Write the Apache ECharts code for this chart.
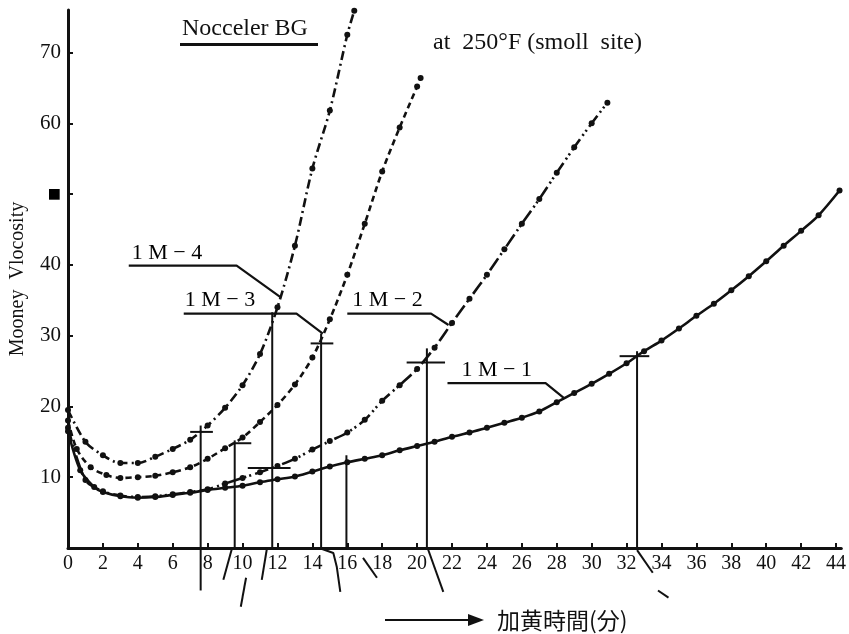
<!DOCTYPE html>
<html>
<head>
<meta charset="utf-8">
<script src="https://cdn.jsdelivr.net/npm/echarts@6/dist/echarts.min.js"></script>
<style>
  html, body { margin: 0; padding: 0; background: #fff; }
  #chart { width: 849px; height: 634px; }
</style>
</head>
<body>
<div id="chart"></div>
<script>
// Mooney viscosity vs. cure time for four Nocceler BG levels (small rotor, 250°F)
const m4Time   = [0, 1, 2, 3, 4, 5, 6, 7, 8, 9, 10, 11, 12, 13, 14, 15, 16, 16.4];
const m4Mooney = [19.5, 15, 13.1, 12, 12, 12.9, 14, 15.3, 17.3, 19.8, 23, 27.4, 34, 42.7, 53.6, 61.8, 72.5, 75.9];

const m3Time   = [0, 0.5, 1.3, 2.2, 3, 4, 5, 6, 7, 8, 9, 10, 11, 12, 13, 14, 15, 16, 17, 18, 19, 20, 20.2];
const m3Mooney = [18, 14, 11.4, 10.3, 9.9, 10, 10.2, 10.7, 11.4, 12.6, 14.1, 15.6, 17.8, 20.2, 23.1, 26.9, 32.3, 38.6, 45.8, 53.2, 59.4, 65.2, 66.4];

const m2Time   = [0, 1, 2, 3, 4, 5, 6, 7, 8, 9, 10, 11, 12, 13, 14, 15, 16, 17, 18, 19, 20, 21, 22, 23, 24, 25, 26, 27, 28, 29, 30, 30.9];
const m2Mooney = [17, 9.6, 8.0, 7.4, 7.2, 7.3, 7.6, 7.9, 8.3, 9.1, 9.9, 10.7, 11.6, 12.6, 13.9, 15.1, 16.3, 18.1, 20.8, 23, 25.3, 28.3, 31.8, 35.2, 38.6, 42.2, 45.8, 49.3, 53, 56.6, 60, 62.9];

const m1Time   = [0, 0.7, 1.5, 2, 3, 4, 5, 6, 7, 8, 9, 10, 11, 12, 13, 14, 15, 16, 17, 18, 19, 20, 21, 22, 23, 24, 25, 26, 27, 28, 29, 30, 31, 32, 33, 34, 35, 36, 37, 38, 39, 40, 41, 42, 43, 44.2];
const m1Mooney = [16.5, 11, 8.6, 7.9, 7.3, 7.1, 7.2, 7.5, 7.8, 8.2, 8.5, 8.8, 9.3, 9.7, 10.1, 10.8, 11.5, 12.1, 12.6, 13.1, 13.8, 14.4, 15.0, 15.7, 16.3, 17.0, 17.7, 18.4, 19.3, 20.6, 21.9, 23.2, 24.6, 26.1, 27.8, 29.3, 31, 32.8, 34.5, 36.4, 38.4, 40.5, 42.7, 44.8, 47, 50.5];

// Scorch / cure-index drop lines
const dropTime   = [7.6, 9.55, 11.7, 14.5, 15.95, 20.56, 32.6];
const dropTop    = [17.3, 15.2, 33.3, 30.3, 13.1, 28.2, 27.8];
const dropBottom = [-6, 0, 0, 0, 0, 0, 0];

// Short cross bars on the curves
const crossStart = [7.0, 9.55, 10.3, 13.9, 19.4, 31.6];
const crossEnd   = [8.3, 10.5, 12.75, 15.2, 21.6, 33.3];
const crossLevel = [16.4, 14.8, 11.3, 28.9, 26.2, 27.1];

// Pen strokes below the time axis
const axisStrokes = [
  [[9.4, 0], [8.9, -4.5]],
  [[10.2, -4.2], [9.9, -8.3]],
  [[11.4, 0], [11.1, -4.5]],
  [[14.4, 0], [15.2, -0.7], [15.4, -2.7], [15.6, -6.2]],
  [[16.9, -1.4], [17.7, -4.2]],
  [[20.6, 0], [21.5, -6.2]],
  [[32.6, -0.3], [33.5, -3.5]],
  [[33.8, -6], [34.4, -7]]
];

// Curve labels and their leader lines
const leaderNames = ['1 M − 4', '1 M − 3', '1 M − 2', '1 M − 1'];
const leaderPaths = [
  [[3.48, 39.9], [9.66, 39.9], [12.19, 35.4]],
  [[6.63, 33.1], [13.09, 33.1], [14.6, 30.3]],
  [[16.0, 33.1], [20.8, 33.1], [21.8, 31.5]],
  [[21.74, 23.3], [27.36, 23.3], [28.4, 21.2]]
];
const leaderLabelShift = [[3, -12], [1, -13], [5, -13], [14, -13]];

const zip = (xs, ys) => xs.map((x, i) => [x, ys[i]]);
const INK = '#111';
const SERIF = '"Liberation Serif", "DejaVu Serif", serif';

function curve(name, xs, ys, dash) {
  return {
    name, type: 'line', data: zip(xs, ys), smooth: 0.3,
    symbol: 'circle', symbolSize: 6, showSymbol: true,
    itemStyle: { color: INK },
    lineStyle: { color: INK, width: 2.6, type: dash },
    animation: false, silent: true, z: 4
  };
}
function stroke(points, width) {
  return {
    type: 'line', data: points, symbol: 'none', clip: false, silent: true,
    animation: false, lineStyle: { color: INK, width: width || 2 }, z: 3
  };
}

const series = [
  curve('1M-4', m4Time, m4Mooney, [9, 4, 2, 4]),
  curve('1M-3', m3Time, m3Mooney, [6, 4]),
  curve('1M-2', m2Time, m2Mooney, [14, 4, 2, 3, 2, 4]),
  curve('1M-1', m1Time, m1Mooney, 'solid')
];
dropTime.forEach((t, i) => series.push(stroke([[t, dropTop[i]], [t, dropBottom[i]]], 2)));
crossStart.forEach((s, i) => series.push(stroke([[s, crossLevel[i]], [crossEnd[i], crossLevel[i]]], 2)));
axisStrokes.forEach(p => series.push(stroke(p, 2)));
leaderPaths.forEach(p => series.push(stroke(p, 2.2)));
series.push({
  type: 'scatter', silent: true, animation: false, z: 5,
  symbol: 'circle', symbolSize: 0, itemStyle: { color: INK, opacity: 1 },
  data: leaderPaths.map((p, i) => ({
    value: p[0],
    label: {
      show: true, position: 'right', distance: 0, offset: leaderLabelShift[i],
      formatter: leaderNames[i], color: '#000', opacity: 1,
      textBorderWidth: 0, fontFamily: SERIF, fontSize: 22
    }
  }))
});

const chart = echarts.init(document.getElementById('chart'), null, { renderer: 'canvas' });
chart.setOption({
  backgroundColor: '#fff',
  animation: false,
  title: [
    { text: 'Nocceler BG', left: 182, top: 17, padding: 0,
      textStyle: { fontFamily: SERIF, fontSize: 24, fontWeight: 'normal', color: INK } },
    { text: 'at  250°F (smoll  site)', left: 433, top: 31, padding: 0,
      textStyle: { fontFamily: SERIF, fontSize: 24, fontWeight: 'normal', color: INK } }
  ],
  grid: { left: 60, right: 1, top: 10, bottom: 86, containLabel: false },
  xAxis: {
    type: 'value', min: 0, max: 44.3, interval: 2,
    splitLine: { show: false },
    axisLine: { onZero: false, lineStyle: { color: INK, width: 3 } },
    axisTick: { inside: true, length: 5, lineStyle: { color: INK, width: 2 } },
    axisLabel: { showMaxLabel: false, margin: 6, color: INK, fontFamily: SERIF, fontSize: 20 }
  },
  yAxis: {
    type: 'value', min: 0, max: 76, interval: 10,
    name: 'Mooney  Vlocosity', nameLocation: 'middle', nameGap: 40,
    nameTextStyle: { fontFamily: SERIF, fontSize: 20, color: INK },
    splitLine: { show: false },
    axisLine: { lineStyle: { color: INK, width: 3 } },
    axisTick: { inside: true, length: 5, lineStyle: { color: INK, width: 2 } },
    axisLabel: {
      showMaxLabel: false, margin: 7, color: INK, fontFamily: SERIF, fontSize: 21,
      formatter: v => v === 0 ? '' : (v === 50 ? '{blot|■}' : String(v)),
      rich: { blot: { fontFamily: '"DejaVu Sans", sans-serif', fontSize: 14, color: '#000' } }
    }
  },
  graphic: [
    { type: 'rect', shape: { x: 180, y: 43, width: 138, height: 3 }, style: { fill: INK }, silent: true },
    { type: 'line', shape: { x1: 385, y1: 620, x2: 474, y2: 620 }, style: { stroke: INK, lineWidth: 2 }, silent: true },
    { type: 'polygon', shape: { points: [[468, 614], [484, 620], [468, 626]] }, style: { fill: INK }, silent: true },
    { type: 'text', x: 497, y: 620, silent: true,
      style: { text: '加黄時間(分)', fill: INK, font: '23px "Noto Sans CJK JP"', textVerticalAlign: 'middle' } }
  ],
  series
});
</script>
</body>
</html>
